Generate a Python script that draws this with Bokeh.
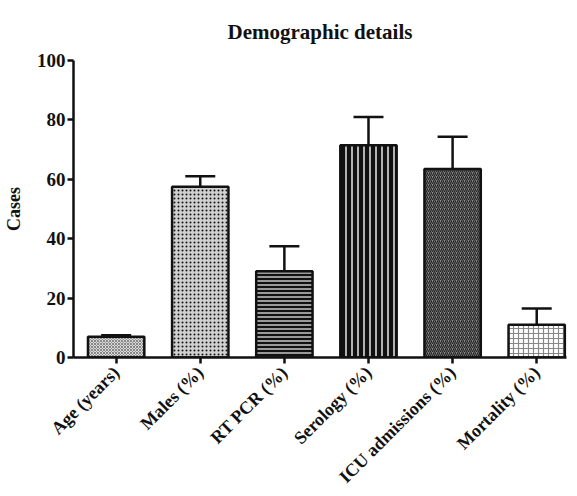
from bokeh.plotting import figure
from bokeh.models import ColumnDataSource, Range1d, FixedTicker, Whisker, TeeHead, Title
from bokeh.embed import file_html
from bokeh.resources import INLINE
import math

title_text = "Demographic details"
categories = ["Age (years)", "Males (%)", "RT PCR (%)", "Serology (%)", "ICU admissions (%)", "Mortality (%)"]
values = [7.0, 57.5, 29.0, 71.5, 63.5, 11.0]
errors = [0.5, 3.5, 8.5, 9.5, 10.8, 5.5]
y_ticks = [0, 20, 40, 60, 80, 100]

xs = list(range(1, len(categories) + 1))
fills = ["#d8d8d8", "#d0d0d0", "#9a9a9a", "#111111", "#8a8a8a", "white"]
hatches = ["diagonal_cross", "dot", "horizontal_line", "vertical_line", "right_diagonal_line", "cross"]
hatch_colors = ["#888888", "#111111", "#111111", "#e8e8e8", "#222222", "#888888"]
hatch_scales = [3, 4, 4, 6, 4, 5]
hatch_weights = [1, 4, 2, 1.5, 1.2, 1.2]

src = ColumnDataSource(dict(x=xs, top=values, upper=[v + e for v, e in zip(values, errors)],
                            fill=fills, hatch=hatches, hcol=hatch_colors,
                            hscale=hatch_scales, hw=hatch_weights))

FONT = "Liberation Serif"
p = figure(width=570, height=496, output_backend="svg", toolbar_location=None,
           x_range=Range1d(0.493, 6.354), y_range=Range1d(0, 100),
           min_border_left=69, min_border_right=4, min_border_top=60, min_border_bottom=138)
p.title = Title(text=title_text, align="center", text_font=FONT,
                text_font_size="21px", text_font_style="bold", text_color="#111111",
                standoff=34, offset=-14)
p.outline_line_color = None
p.xgrid.visible = False
p.ygrid.visible = False

whisk = Whisker(source=src, base="x", upper="upper", lower="top", dimension="height",
                line_color="#111111", line_width=2.5,
                upper_head=TeeHead(size=30, line_color="#111111", line_width=2.5),
                lower_head=None)
p.add_layout(whisk)

p.vbar(x="x", top="top", width=0.67, bottom=0, source=src,
       fill_color="fill", line_color="#111111", line_width=2.5,
       hatch_pattern="hatch", hatch_color="hcol", hatch_scale="hscale", hatch_weight="hw")

for ax in (p.xaxis[0], p.yaxis[0]):
    ax.axis_line_width = 2.5
    ax.axis_line_color = "#111111"
    ax.major_tick_line_width = 2.5
    ax.major_tick_line_color = "#111111"
    ax.major_tick_out = 6
    ax.major_tick_in = 0
    ax.minor_tick_line_color = None
    ax.major_label_text_font = FONT
    ax.major_label_text_font_style = "bold"
    ax.major_label_text_color = "#111111"

p.yaxis.major_label_text_font_size = "19px"
p.xaxis.major_label_text_font_size = "18px"
p.yaxis.ticker = FixedTicker(ticks=y_ticks)
p.yaxis.axis_label = "Cases"
p.yaxis.axis_label_text_font = FONT
p.yaxis.axis_label_text_font_style = "bold"
p.yaxis.axis_label_text_font_size = "18px"
p.yaxis.axis_label_text_color = "#111111"
p.yaxis.axis_label_standoff = 10
p.yaxis.major_label_standoff = 2

p.xaxis.ticker = FixedTicker(ticks=xs)
p.xaxis.major_label_overrides = {x: c for x, c in zip(xs, categories)}
p.xaxis.major_label_orientation = math.pi / 4
p.xaxis.major_label_standoff = 6

open("out.html", "w").write(file_html(p, INLINE))
